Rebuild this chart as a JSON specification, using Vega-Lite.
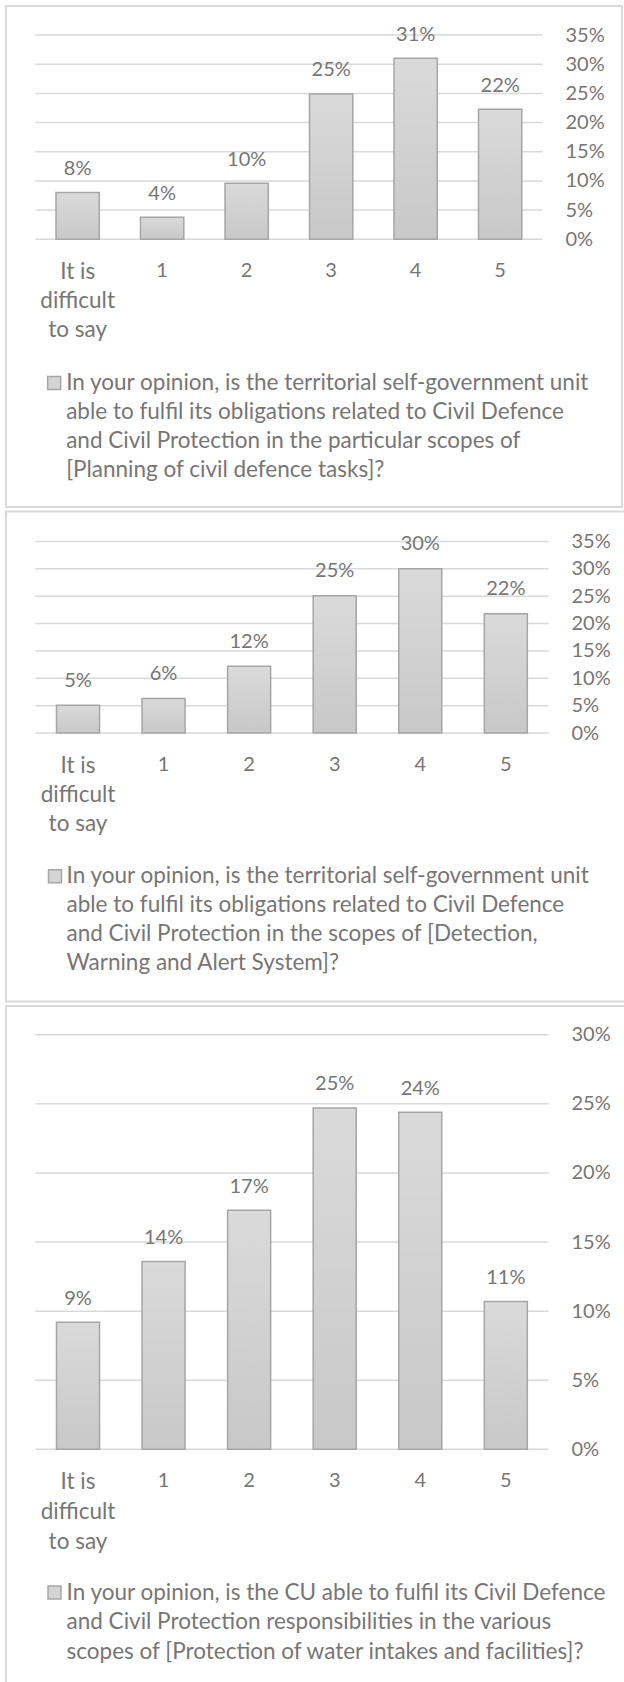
{
  "$schema": "https://vega.github.io/schema/vega-lite/v6.json",
  "background": "white",
  "padding": {"left": 5, "top": 5, "right": 0, "bottom": 0},
  "spacing": 2.5,
  "config": {
    "view": {"stroke": "#d9d9d9", "strokeWidth": 2},
    "font": "Lato",
    "text": {"font": "Lato", "fontSize": 20, "color": "#767676"},
    "axis": {"labelFont": "Lato", "labelFontSize": 20, "labelColor": "#767676", "domain": false, "ticks": false, "tickSize": 0, "labelPadding": 0, "grid": false, "title": null}
  },
  "datasets": {
    "p1": [
      {"answer": "It is difficult to say", "share": 0.080},
      {"answer": "1", "share": 0.038},
      {"answer": "2", "share": 0.096},
      {"answer": "3", "share": 0.249},
      {"answer": "4", "share": 0.310},
      {"answer": "5", "share": 0.223}
    ],
    "p2": [
      {"answer": "It is difficult to say", "share": 0.051},
      {"answer": "1", "share": 0.063},
      {"answer": "2", "share": 0.122},
      {"answer": "3", "share": 0.251},
      {"answer": "4", "share": 0.300},
      {"answer": "5", "share": 0.218}
    ],
    "p3": [
      {"answer": "It is difficult to say", "share": 0.092},
      {"answer": "1", "share": 0.136},
      {"answer": "2", "share": 0.173},
      {"answer": "3", "share": 0.247},
      {"answer": "4", "share": 0.244},
      {"answer": "5", "share": 0.107}
    ],
    "g35": [{"share": 0}, {"share": 0.05}, {"share": 0.10}, {"share": 0.15}, {"share": 0.20}, {"share": 0.25}, {"share": 0.30}, {"share": 0.35}],
    "g30": [{"share": 0}, {"share": 0.05}, {"share": 0.10}, {"share": 0.15}, {"share": 0.20}, {"share": 0.25}, {"share": 0.30}],
    "l1": [{"q": "In your opinion, is the territorial self-government unit\nable to fulfil its obligations related to Civil Defence\nand Civil Protection in the particular scopes of\n[Planning of civil defence tasks]?"}],
    "l2": [{"q": "In your opinion, is the territorial self-government unit\nable to fulfil its obligations related to Civil Defence\nand Civil Protection in the scopes of [Detection,\nWarning and Alert System]?"}],
    "l3": [{"q": "In your opinion, is the CU able to fulfil its Civil Defence\nand Civil Protection responsibilities in the various\nscopes of [Protection of water intakes and facilities]?"}]
  },
  "vconcat": [
    {
      "width": 616,
      "height": 501,
      "layer": [
        {
          "data": {"name": "g35"},
          "mark": {"type": "rule", "color": "#d9d9d9", "strokeWidth": 1.5, "xOffset": -42.25, "x2Offset": 42.25},
          "encoding": {
            "x": {"datum": "It is difficult to say", "type": "nominal", "axis": {"title": null}},
            "x2": {"datum": "5"},
            "y": {"field": "share", "type": "quantitative", "axis": {"title": null}}
          }
        },
        {
          "data": {"name": "p1"},
          "mark": {"type": "bar", "fill": {"gradient": "linear", "x1": 0, "y1": 0, "x2": 0, "y2": 1, "stops": [{"offset": 0, "color": "#dadada"}, {"offset": 1, "color": "#c8c8c8"}]}, "stroke": "#a6a6a6", "strokeWidth": 1.5},
          "encoding": {
            "x": {"field": "answer", "type": "nominal", "sort": null,
              "scale": {"domain": ["It is difficult to say", "1", "2", "3", "4", "5"], "paddingInner": 0.4876, "paddingOuter": 0.8888, "align": 0.3329},
              "axis": {"orient": "bottom", "offset": -246.9, "labelAngle": 0, "labelAlign": "center", "labelFlush": false, "labelBaseline": "top", "labelLineHeight": 29, "title": null,
                "labelFontSize": {"condition": {"test": "datum.value == 'It is difficult to say'", "value": 22.5}, "value": 20},
                "labelExpr": "datum.label == 'It is difficult to say' ? ['It is', 'difficult', 'to say'] : datum.label"}},
            "y": {"field": "share", "type": "quantitative",
              "scale": {"domain": [-0.4586, 0.3997], "nice": false, "zero": false},
              "axis": {"orient": "right", "offset": -57, "values": [0, 0.05, 0.10, 0.15, 0.20, 0.25, 0.30, 0.35], "format": ".0%", "labelAlign": "left", "labelBaseline": "middle", "title": null}}
          }
        },
        {
          "data": {"name": "p1"},
          "mark": {"type": "text", "baseline": "alphabetic", "dy": -17.5},
          "encoding": {
            "x": {"field": "answer", "type": "nominal", "axis": {"title": null}},
            "y": {"field": "share", "type": "quantitative", "axis": {"title": null}},
            "text": {"field": "share", "type": "quantitative", "format": ".0%"}
          }
        },
        {
          "data": {"name": "l1"},
          "mark": {"type": "text", "align": "left", "baseline": "top", "lineBreak": "\n", "lineHeight": 29, "dx": -11.5, "fontSize": 22.5},
          "encoding": {
            "x": {"datum": "It is difficult to say", "type": "nominal", "axis": {"title": null}},
            "y": {"datum": -0.2265, "type": "quantitative", "axis": {"title": null}},
            "text": {"field": "q"}
          }
        },
        {
          "data": {"name": "l1"},
          "mark": {"type": "point", "shape": "square", "size": 169, "filled": true, "fill": "#d4d4d4", "stroke": "#a6a6a6", "strokeWidth": 1.5, "opacity": 1, "xOffset": -23.5},
          "encoding": {
            "x": {"datum": "It is difficult to say", "type": "nominal", "axis": {"title": null}},
            "y": {"datum": -0.2462, "type": "quantitative", "axis": {"title": null}}
          }
        }
      ]
    },
    {
      "width": 620,
      "height": 490,
      "layer": [
        {
          "data": {"name": "g35"},
          "mark": {"type": "rule", "color": "#d9d9d9", "strokeWidth": 1.5, "xOffset": -42.78, "x2Offset": 42.78},
          "encoding": {
            "x": {"datum": "It is difficult to say", "type": "nominal", "axis": {"title": null}},
            "x2": {"datum": "5"},
            "y": {"field": "share", "type": "quantitative", "axis": {"title": null}}
          }
        },
        {
          "data": {"name": "p2"},
          "mark": {"type": "bar", "fill": {"gradient": "linear", "x1": 0, "y1": 0, "x2": 0, "y2": 1, "stops": [{"offset": 0, "color": "#dadada"}, {"offset": 1, "color": "#c8c8c8"}]}, "stroke": "#a6a6a6", "strokeWidth": 1.5},
          "encoding": {
            "x": {"field": "answer", "type": "nominal", "sort": null,
              "scale": {"domain": ["It is difficult to say", "1", "2", "3", "4", "5"], "paddingInner": 0.497, "paddingOuter": 0.8717, "align": 0.3385},
              "axis": {"orient": "bottom", "offset": -246.6, "labelAngle": 0, "labelAlign": "center", "labelFlush": false, "labelBaseline": "top", "labelLineHeight": 29, "title": null,
                "labelFontSize": {"condition": {"test": "datum.value == 'It is difficult to say'", "value": 22.5}, "value": 20},
                "labelExpr": "datum.label == 'It is difficult to say' ? ['It is', 'difficult', 'to say'] : datum.label"}},
            "y": {"field": "share", "type": "quantitative",
              "scale": {"domain": [-0.4903, 0.4048], "nice": false, "zero": false},
              "axis": {"orient": "right", "offset": -55, "values": [0, 0.05, 0.10, 0.15, 0.20, 0.25, 0.30, 0.35], "format": ".0%", "labelAlign": "left", "labelBaseline": "middle", "title": null}}
          }
        },
        {
          "data": {"name": "p2"},
          "mark": {"type": "text", "baseline": "alphabetic", "dy": -18.5},
          "encoding": {
            "x": {"field": "answer", "type": "nominal", "axis": {"title": null}},
            "y": {"field": "share", "type": "quantitative", "axis": {"title": null}},
            "text": {"field": "share", "type": "quantitative", "format": ".0%"}
          }
        },
        {
          "data": {"name": "l2"},
          "mark": {"type": "text", "align": "left", "baseline": "top", "lineBreak": "\n", "lineHeight": 29, "dx": -11.5, "fontSize": 22.5},
          "encoding": {
            "x": {"datum": "It is difficult to say", "type": "nominal", "axis": {"title": null}},
            "y": {"datum": -0.2406, "type": "quantitative", "axis": {"title": null}},
            "text": {"field": "q"}
          }
        },
        {
          "data": {"name": "l2"},
          "mark": {"type": "point", "shape": "square", "size": 169, "filled": true, "fill": "#d4d4d4", "stroke": "#a6a6a6", "strokeWidth": 1.5, "opacity": 1, "xOffset": -23},
          "encoding": {
            "x": {"datum": "It is difficult to say", "type": "nominal", "axis": {"title": null}},
            "y": {"datum": -0.2616, "type": "quantitative", "axis": {"title": null}}
          }
        }
      ]
    },
    {
      "width": 620,
      "height": 677,
      "layer": [
        {
          "data": {"name": "g30"},
          "mark": {"type": "rule", "color": "#d9d9d9", "strokeWidth": 1.5, "xOffset": -42.78, "x2Offset": 42.78},
          "encoding": {
            "x": {"datum": "It is difficult to say", "type": "nominal", "axis": {"title": null}},
            "x2": {"datum": "5"},
            "y": {"field": "share", "type": "quantitative", "axis": {"title": null}}
          }
        },
        {
          "data": {"name": "p3"},
          "mark": {"type": "bar", "fill": {"gradient": "linear", "x1": 0, "y1": 0, "x2": 0, "y2": 1, "stops": [{"offset": 0, "color": "#dadada"}, {"offset": 1, "color": "#c8c8c8"}]}, "stroke": "#a6a6a6", "strokeWidth": 1.5},
          "encoding": {
            "x": {"field": "answer", "type": "nominal", "sort": null,
              "scale": {"domain": ["It is difficult to say", "1", "2", "3", "4", "5"], "paddingInner": 0.497, "paddingOuter": 0.8717, "align": 0.3385},
              "axis": {"orient": "bottom", "offset": -212.3, "labelAngle": 0, "labelAlign": "center", "labelFlush": false, "labelBaseline": "top", "labelLineHeight": 30, "title": null,
                "labelFontSize": {"condition": {"test": "datum.value == 'It is difficult to say'", "value": 22.5}, "value": 20},
                "labelExpr": "datum.label == 'It is difficult to say' ? ['It is', 'difficult', 'to say'] : datum.label"}},
            "y": {"field": "share", "type": "quantitative",
              "scale": {"domain": [-0.1691, 0.3208], "nice": false, "zero": false},
              "axis": {"orient": "right", "offset": -55, "values": [0, 0.05, 0.10, 0.15, 0.20, 0.25, 0.30], "format": ".0%", "labelAlign": "left", "labelBaseline": "middle", "title": null}}
          }
        },
        {
          "data": {"name": "p3"},
          "mark": {"type": "text", "baseline": "alphabetic", "dy": -17.6},
          "encoding": {
            "x": {"field": "answer", "type": "nominal", "axis": {"title": null}},
            "y": {"field": "share", "type": "quantitative", "axis": {"title": null}},
            "text": {"field": "share", "type": "quantitative", "format": ".0%"}
          }
        },
        {
          "data": {"name": "l3"},
          "mark": {"type": "text", "align": "left", "baseline": "top", "lineBreak": "\n", "lineHeight": 29.6, "dx": -11.5, "fontSize": 22.5},
          "encoding": {
            "x": {"datum": "It is difficult to say", "type": "nominal", "axis": {"title": null}},
            "y": {"datum": -0.0957, "type": "quantitative", "axis": {"title": null}},
            "text": {"field": "q"}
          }
        },
        {
          "data": {"name": "l3"},
          "mark": {"type": "point", "shape": "square", "size": 169, "filled": true, "fill": "#d4d4d4", "stroke": "#a6a6a6", "strokeWidth": 1.5, "opacity": 1, "xOffset": -23.5},
          "encoding": {
            "x": {"datum": "It is difficult to say", "type": "nominal", "axis": {"title": null}},
            "y": {"datum": -0.1036, "type": "quantitative", "axis": {"title": null}}
          }
        }
      ]
    }
  ]
}
